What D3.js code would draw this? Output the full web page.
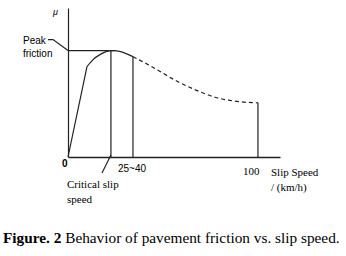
<!DOCTYPE html>
<html>
<head>
<meta charset="utf-8">
<script src="https://cdn.jsdelivr.net/npm/d3@7"></script>
<style>
  body { margin: 0; background: #fff; }
  svg { display: block; }
  .sans { font-family: "Liberation Sans", Arial, sans-serif; }
  .serif { font-family: "Liberation Serif", "Times New Roman", serif; }
</style>
</head>
<body>
<svg id="chart" width="346" height="256"></svg>
<script>
// slip speed (km/h) vs friction coefficient (peak = 1)
const rampPoints = [[0, 0], [10, 0.85]];
const roundPoints = [[10, 0.85], [13.2, 0.915], [16.8, 0.962], [22.6, 1.0], [24.7, 1.0], [34.2, 0.943]];
const dashPoints = [[34.2, 0.943], [43.2, 0.858], [58.9, 0.698], [69.5, 0.613], [78.4, 0.557], [90.5, 0.519], [100, 0.509]];
const criticalSpeed = 22.6;
const rangeEnd = 34.2;
const maxSpeed = 100;
const peakMu = 1.0;
const peakX = 24.7;
const tickLabels = ["0", "25~40", "100"];

const svg = d3.select("#chart");

const x = d3.scaleLinear().domain([0, 111.6]).range([68, 280]);
const y = d3.scaleLinear().domain([0, 1.4]).range([157, 8]);

const line = d3.line().x(d => x(d[0])).y(d => y(d[1]));

// axes (no ticks)
svg.append("g")
  .attr("transform", "translate(0," + y(0) + ")")
  .call(d3.axisBottom(x).tickValues([]).tickSizeOuter(0))
  .select(".domain").attr("stroke", "#222").attr("stroke-width", 1.4);
svg.append("g")
  .attr("transform", "translate(" + x(0) + ",0)")
  .call(d3.axisLeft(y).tickValues([]).tickSizeOuter(0))
  .select(".domain").attr("stroke", "#222").attr("stroke-width", 1.2);

const g = svg.append("g").attr("fill", "none").attr("stroke", "#222").attr("stroke-width", 1.2);

g.append("path").attr("d", line(rampPoints));
g.append("path").attr("d", line.curve(d3.curveMonotoneX)(roundPoints));
g.append("path").attr("d", line.curve(d3.curveMonotoneX)(dashPoints)).attr("stroke-dasharray", "4,3");

// peak line
g.append("path").attr("d", d3.line().x(d => x(d[0])).y(d => y(d[1]))([[0, peakMu], [peakX, peakMu]]));

// verticals
[[criticalSpeed, peakMu], [rangeEnd, 0.943], [maxSpeed, 0.509]].forEach(v => {
  g.append("line")
    .attr("x1", x(v[0])).attr("x2", x(v[0]))
    .attr("y1", y(0)).attr("y2", y(v[1]));
});

// leader lines
g.append("path").attr("d", "M48," + (y(peakMu) - 11) + "L53," + (y(peakMu) - 11) + "L" + x(0) + "," + y(peakMu));
g.append("line").attr("x1", x(criticalSpeed)).attr("y1", y(0) - 2).attr("x2", 102).attr("y2", 173);

// labels
svg.append("text").attr("class", "sans").attr("x", 53).attr("y", 15).attr("font-size", 9).attr("font-style", "italic").text("μ");
svg.append("text").attr("class", "sans").attr("x", 23).attr("y", 44).attr("font-size", 10).text("Peak");
svg.append("text").attr("class", "sans").attr("x", 23).attr("y", 57).attr("font-size", 10).text("friction");

svg.append("text").attr("class", "sans").attr("x", 62).attr("y", 167).attr("font-size", 10).attr("font-weight", "bold").text(tickLabels[0]);
svg.append("text").attr("class", "sans").attr("x", 118).attr("y", 172).attr("font-size", 10).text(tickLabels[1]);
svg.append("text").attr("class", "serif").attr("x", 243).attr("y", 175).attr("font-size", 11).text(tickLabels[2]);

svg.append("text").attr("class", "serif").attr("x", 271).attr("y", 176).attr("font-size", 11).text("Slip Speed");
svg.append("text").attr("class", "serif").attr("x", 271).attr("y", 191).attr("font-size", 11).text("/ (km/h)");

svg.append("text").attr("class", "serif").attr("x", 67).attr("y", 188).attr("font-size", 11).text("Critical slip");
svg.append("text").attr("class", "serif").attr("x", 67).attr("y", 203).attr("font-size", 11).text("speed");

const cap = svg.append("text").attr("class", "serif").attr("x", 3).attr("y", 243).attr("font-size", 15.3);
cap.append("tspan").attr("font-weight", "bold").text("Figure. 2");
cap.append("tspan").text(" Behavior of pavement friction vs. slip speed.");
</script>
</body>
</html>
